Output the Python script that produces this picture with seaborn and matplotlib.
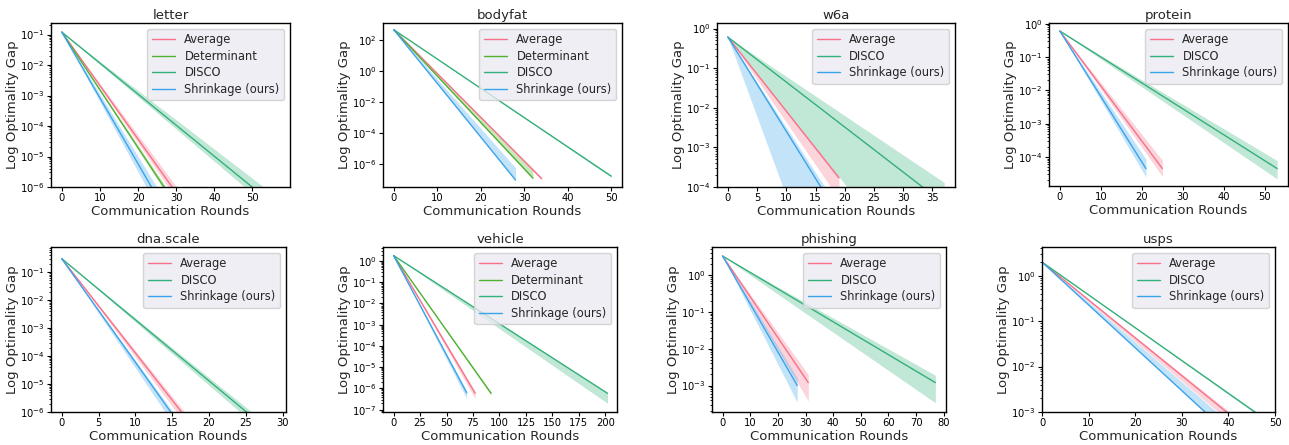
import math
import matplotlib
matplotlib.use("Agg")
import matplotlib.pyplot as plt
from matplotlib.ticker import LogLocator, FixedLocator
import seaborn as sns

# ---------------- data ----------------
TITLES = ["letter", "bodyfat", "w6a", "protein", "dna.scale", "vehicle", "phishing", "usps"]

letter_methods = ["Average", "Determinant", "DISCO", "Shrinkage (ours)"]
letter_start = 0.12
letter_end_round = [31, 29, 57, 26]
letter_mean = [4.3e-7, 3.8e-7, 1.9e-7, 2.9e-7]
letter_lo = [2.7e-7, 3.0e-7, 1.1e-7, 1.3e-7]
letter_hi = [7.1e-7, 5.0e-7, 4.1e-7, 6.0e-7]

bodyfat_methods = ["Average", "Determinant", "DISCO", "Shrinkage (ours)"]
bodyfat_start = 490.0
bodyfat_end_round = [34, 32, 50, 28]
bodyfat_mean = [1.1e-7, 1.2e-7, 1.6e-7, 9.0e-8]
bodyfat_lo = [0.95e-7, 1.0e-7, 1.4e-7, 8.0e-8]
bodyfat_hi = [1.4e-7, 4.0e-7, 1.9e-7, 5.5e-7]

w6a_methods = ["Average", "DISCO", "Shrinkage (ours)"]
w6a_start = 0.61
w6a_end_round = [19, 37, 17]
w6a_mean = [1.7e-4, 3.8e-5, 5.5e-5]
w6a_lo = [5.0e-5, 8.3e-8, 8.7e-8]
w6a_hi = [1.9e-4, 1.3e-4, 8.1e-5]

protein_methods = ["Average", "DISCO", "Shrinkage (ours)"]
protein_start = 0.6
protein_end_round = [25, 53, 21]
protein_mean = [4.5e-5, 4.5e-5, 4.5e-5]
protein_lo = [2.6e-5, 2.2e-5, 2.5e-5]
protein_hi = [8.0e-5, 7.8e-5, 8.7e-5]

dna_methods = ["Average", "DISCO", "Shrinkage (ours)"]
dna_start = 0.3
dna_end_round = [18, 29, 16]
dna_mean = [2.6e-7, 1.4e-7, 3.6e-7]
dna_lo = [1.4e-7, 8.3e-8, 1.7e-7]
dna_hi = [3.7e-7, 2.1e-7, 4.7e-7]

vehicle_methods = ["Average", "Determinant", "DISCO", "Shrinkage (ours)"]
vehicle_start = 1.8
vehicle_end_round = [77, 92, 202, 69]
vehicle_mean = [5.9e-7, 5.9e-7, 5.9e-7, 6.3e-7]
vehicle_lo = [3.3e-7, 5.0e-7, 2.0e-7, 3.3e-7]
vehicle_hi = [7.5e-7, 7.0e-7, 6.5e-7, 7.5e-7]

phishing_methods = ["Average", "DISCO", "Shrinkage (ours)"]
phishing_start = 3.3
phishing_end_round = [31, 77, 27]
phishing_mean = [1.2e-3, 1.2e-3, 1.0e-3]
phishing_lo = [3.8e-4, 3.4e-4, 3.5e-4]
phishing_hi = [2.0e-3, 1.9e-3, 1.6e-3]

usps_methods = ["Average", "DISCO", "Shrinkage (ours)"]
usps_start = 2.0
usps_end_round = [42, 48, 38]
usps_mean = [6.3e-4, 6.8e-4, 5.2e-4]
usps_lo = [4.3e-4, 6.4e-4, 5.0e-4]
usps_hi = [7.2e-4, 7.2e-4, 9.1e-4]

# ---------------- style ----------------
sns.set_theme(style="ticks")
plt.rcParams["font.family"] = ["DejaVu Sans"]
plt.rcParams.update({
    "axes.edgecolor": "black",
    "axes.linewidth": 1.0,
    "xtick.color": "black",
    "ytick.color": "black",
    "xtick.major.size": 3.0,
    "ytick.major.size": 3.0,
    "ytick.minor.size": 1.8,
    "xtick.major.width": 0.8,
    "ytick.major.width": 0.8,
    "ytick.minor.width": 0.6,
    "mathtext.fontset": "dejavusans",
})

COLORS = {
    "Average": "#f77189",
    "Determinant": "#50b131",
    "DISCO": "#33b07a",
    "Shrinkage (ours)": "#3ba3ec",
}

datasets = [
    (letter_methods, letter_start, letter_end_round, letter_mean, letter_lo, letter_hi),
    (bodyfat_methods, bodyfat_start, bodyfat_end_round, bodyfat_mean, bodyfat_lo, bodyfat_hi),
    (w6a_methods, w6a_start, w6a_end_round, w6a_mean, w6a_lo, w6a_hi),
    (protein_methods, protein_start, protein_end_round, protein_mean, protein_lo, protein_hi),
    (dna_methods, dna_start, dna_end_round, dna_mean, dna_lo, dna_hi),
    (vehicle_methods, vehicle_start, vehicle_end_round, vehicle_mean, vehicle_lo, vehicle_hi),
    (phishing_methods, phishing_start, phishing_end_round, phishing_mean, phishing_lo, phishing_hi),
    (usps_methods, usps_start, usps_end_round, usps_mean, usps_lo, usps_hi),
]

XLIMS = [(-2.85, 59.85), (-2.5, 52.5), (-1.85, 38.85), (-2.65, 55.65),
         (-1.45, 30.45), (-10, 211), (-3.85, 80.85), (0, 50)]
XSTEPS = [10, 10, 5, 10, 5, 25, 10, 10]
YLIMS = [(1e-6, 0.24), (10 ** -7.5, 10 ** 3.13), (1e-4, 1.38), (10 ** -4.87, 10 ** 0.02),
         (1e-6, 0.78), (10 ** -7.11, 10 ** 0.66), (10 ** -3.72, 10 ** 0.765), (1e-3, 4.3)]

# axes boxes in pixels: left, right, top, bottom
BOXES = [(51, 290, 23, 187), (383, 622, 23, 187), (717, 955, 23, 187), (1049, 1288, 23, 186),
         (51, 286, 247, 412), (383, 617, 247, 412), (712, 946, 247, 412), (1042, 1275, 247, 412)]

W, H = 1289, 445
fig = plt.figure(figsize=(W / 100, H / 100), dpi=100)

for title, data, xl, xstep, yl, box in zip(TITLES, datasets, XLIMS, XSTEPS, YLIMS, BOXES):
    methods, start, ends, means, los, his = data
    l, r, t, b = box
    ax = fig.add_axes([l / W, 1 - b / H, (r - l) / W, (b - t) / H])
    for name, R, m, lo, hi in zip(methods, ends, means, los, his):
        c = COLORS[name]
        xs = [0, R]
        ax.fill_between(xs, [start, lo], [start, hi], color=c, alpha=0.3, lw=0)
        sns.lineplot(x=xs, y=[start, m], ax=ax, color=c, lw=1.0, label=name)
    ax.set_yscale("log")
    ax.set_xlim(*xl)
    ax.set_ylim(*yl)

    # ticks restricted to the visible range
    ax.yaxis.set_major_locator(LogLocator(base=10, numticks=10))
    yt = [v for v in ax.get_yticks() if yl[0] * 0.999 <= v <= yl[1] * 1.001]
    ax.yaxis.set_major_locator(FixedLocator(yt))
    k0 = math.ceil(xl[0] / xstep - 1e-9)
    k1 = math.floor(xl[1] / xstep + 1e-9)
    ax.xaxis.set_major_locator(FixedLocator([k * xstep for k in range(k0, k1 + 1)]))
    ax.set_xlim(*xl)
    ax.set_ylim(*yl)

    ax.set_title(title, fontsize=9.5, pad=3)
    ax.set_xlabel("Communication Rounds", fontsize=9.5, labelpad=1)
    ax.set_ylabel("Log Optimality Gap", fontsize=9.5, labelpad=1)
    ax.tick_params(axis="both", which="major", labelsize=7.2, pad=1.5)
    ax.legend(loc="upper right", fontsize=8.3, frameon=True, fancybox=True,
              facecolor="#EAEAF2", edgecolor="0.8", framealpha=0.8,
              handlelength=2.0, borderpad=0.4, labelspacing=0.3)
    for s in ax.spines.values():
        s.set_visible(True)
        s.set_color("black")

fig.savefig("out.png", dpi=100)
